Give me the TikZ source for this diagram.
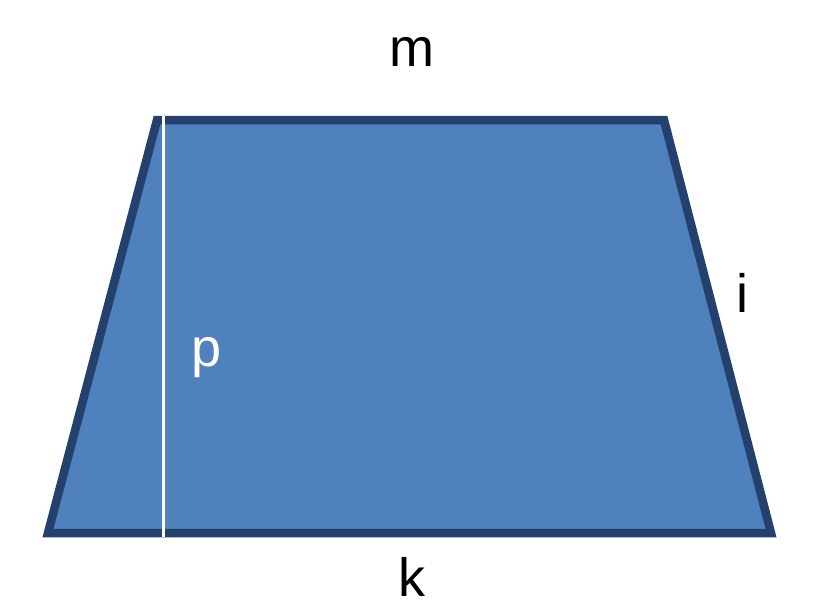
\documentclass[tikz,border=0pt]{standalone}
\usepackage{fontspec}
\setmainfont{Liberation Sans}
\definecolor{trapfill}{RGB}{79,129,189}
\definecolor{trapedge}{RGB}{36,64,108}
\begin{document}
\begin{tikzpicture}[x=1pt,y=-1pt,line join=miter,
  lbl/.style={font=\fontsize{54}{60}\selectfont,inner sep=0pt}]
\useasboundingbox (0,0) rectangle (834,610);
% corners of the trapezoid
\coordinate (tl) at (157,120);
\coordinate (tr) at (664,120);
\coordinate (br) at (771,533);
\coordinate (bl) at (48,533);
\filldraw[fill=trapfill,draw=trapedge,line width=8.5pt] (tl) -- (tr) -- (br) -- (bl) -- cycle;
% height
\coordinate (htop) at (163,116);
\coordinate (hbot) at (163,537);
\draw[white,line width=3pt] (htop) -- (hbot);
\node[lbl] (m) at (412,52) {m};
\node[lbl] (i) at (742,293) {i};
\node[lbl,text=white] (p) at (207,358) {p};
\node[lbl] (k) at (412,577) {k};
\end{tikzpicture}
\end{document}
